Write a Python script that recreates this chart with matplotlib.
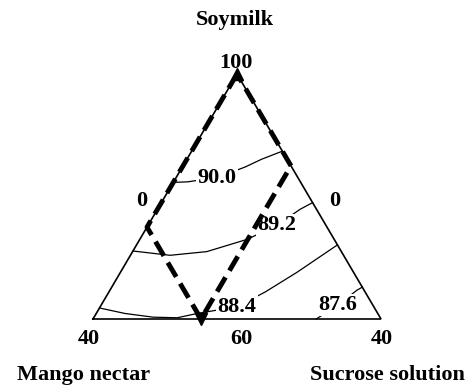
import matplotlib.pyplot as plt

plt.rcParams['font.family'] = ['Liberation Serif', 'DejaVu Serif']
plt.rcParams['font.weight'] = 'bold'

# Mixture region (%): soymilk = 100 - mango - sucrose, mango 0-40, sucrose 0-40
# Contour levels and their traced paths as (mango %, sucrose %) pairs
levels = [90.0, 89.2, 88.4, 87.6]
level_labels = ['90.0', '89.2', '88.4', '87.6']

c900_mango = [17.7, 15.6, 11.2, 6.5, 3.5, 0.0]
c900_sucrose = [0.0, 2.0, 5.7, 8.7, 10.4, 12.6]

c892_mango = [28.9, 24.1, 18.7, 12.1, 6.8, 2.3, 0.0]
c892_sucrose = [0.0, 5.5, 10.3, 14.9, 17.9, 19.8, 21.0]

c884_mango = [38.2, 35.1, 31.5, 28.2, 25.1, 19.0, 13.9, 7.9, 0.0]
c884_sucrose = [0.0, 4.0, 8.2, 11.6, 14.0, 19.0, 21.7, 24.5, 27.9]

c876_mango = [9.0, 4.8, 1.0, 0.0]
c876_sucrose = [31.0, 32.9, 34.3, 34.8]

contour_mango = [c900_mango, c892_mango, c884_mango, c876_mango]
contour_sucrose = [c900_sucrose, c892_sucrose, c884_sucrose, c876_sucrose]
# where each label sits along its line
label_mango = [11.2, 6.8, 19.0, 4.8]
label_sucrose = [5.7, 17.9, 19.0, 32.9]

# Experimental region (parallelogram): mango 0-25 %, sucrose 0-15 %
region_mango = [0, 25, 25, 0, 0]
region_sucrose = [0, 0, 15, 15, 0]


def to_xy(mango, sucrose):
    """Pseudo-component ternary -> cartesian (base 0..1, height 0..1)."""
    xs, ys = [], []
    for m, c in zip(mango, sucrose):
        sp = (40.0 - m - c) / 40.0
        cp = c / 40.0
        xs.append(cp + sp / 2)
        ys.append(sp)
    return xs, ys


fig = plt.figure(figsize=(4.74, 3.89), dpi=100)
ax = fig.add_axes([0, 0, 1, 1])
ax.set_xlim(-93 / 288, (474 - 93) / 288)
ax.set_ylim((319 - 389) / 245, 319 / 245)
ax.axis('off')

# triangle outline
tx, ty = to_xy([40, 0, 0, 40], [0, 40, 0, 0])
ax.plot(tx, ty, color='black', lw=1.2, solid_joinstyle='miter', zorder=2)

# contour lines with inline labels
for i in range(len(levels)):
    x, y = to_xy(contour_mango[i], contour_sucrose[i])
    ax.plot(x, y, color='black', lw=0.9, zorder=2)
    lx, ly = to_xy([label_mango[i]], [label_sucrose[i]])
    ax.text(lx[0], ly[0], level_labels[i], fontsize=16, fontweight='bold',
            ha='center', va='center', zorder=3,
            bbox=dict(fc='white', ec='none', pad=1))

# experimental region
rx, ry = to_xy(region_mango, region_sucrose)
ax.plot(rx, ry, color='black', lw=3.5, linestyle=(0, (3.4, 1.6)),
        dash_capstyle='butt', zorder=4)
ax.plot(rx[2], ry[2], marker='v', color='black', markersize=9, zorder=4)
ax.plot(rx[0], ry[0], marker='^', color='black', markersize=8, zorder=4)

# vertex / edge values
ax_x, ax_y = to_xy([0], [0])
lv_x, lv_y = to_xy([40], [0])
rv_x, rv_y = to_xy([0], [40])
lm_x, lm_y = to_xy([20], [0])
rm_x, rm_y = to_xy([0], [20])
bm_x, bm_y = to_xy([20], [20])

tick_kw = dict(textcoords='offset pixels', ha='center', va='center',
               fontsize=16, fontweight='bold')
ax.annotate('100', (ax_x[0], ax_y[0]), xytext=(-1, 11), **tick_kw)
ax.annotate('0', (lm_x[0], lm_y[0]), xytext=(-23, -4), **tick_kw)
ax.annotate('0', (rm_x[0], rm_y[0]), xytext=(26, -4), **tick_kw)
ax.annotate('40', (lv_x[0], lv_y[0]), xytext=(-4, -20), **tick_kw)
ax.annotate('60', (bm_x[0], bm_y[0]), xytext=(4, -20), **tick_kw)
ax.annotate('40', (rv_x[0], rv_y[0]), xytext=(1, -20), **tick_kw)

# component names
ax.annotate('Soymilk', (ax_x[0], ax_y[0]), xytext=(-2, 54), **tick_kw)
ax.annotate('Mango nectar', (lv_x[0], lv_y[0]), xytext=(-9, -56), **tick_kw)
ax.annotate('Sucrose solution', (rv_x[0], rv_y[0]), xytext=(6, -56), **tick_kw)

fig.savefig('out.png', dpi=100)
